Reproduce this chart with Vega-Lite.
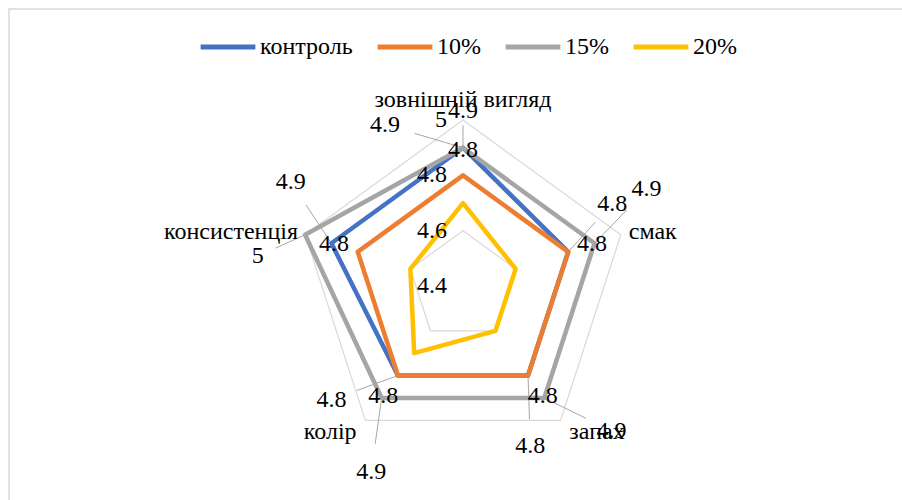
{
  "$schema": "https://vega.github.io/schema/vega-lite/v6.json",
  "width": 895,
  "height": 493,
  "autosize": {"type": "none"},
  "padding": {"left": 9, "top": 9, "right": 0, "bottom": 0},
  "background": "white",
  "config": {"view": {"stroke": "#d9d9d9", "strokeWidth": 1.5}, "font": "Liberation Serif", "text": {"font": "Liberation Serif", "fontSize": 24, "color": "black"}, "legend": {"labelFont": "Liberation Serif"}},
  "datasets": {
    "scores": [
      {"axis": "зовнішній вигляд", "idx": 0, "series": "контроль", "value": 4.9},
      {"axis": "смак", "idx": 1, "series": "контроль", "value": 4.8},
      {"axis": "запах", "idx": 2, "series": "контроль", "value": 4.8},
      {"axis": "колір", "idx": 3, "series": "контроль", "value": 4.8},
      {"axis": "консистенція", "idx": 4, "series": "контроль", "value": 4.9},
      {"axis": "зовнішній вигляд", "idx": 0, "series": "10%", "value": 4.8},
      {"axis": "смак", "idx": 1, "series": "10%", "value": 4.8},
      {"axis": "запах", "idx": 2, "series": "10%", "value": 4.8},
      {"axis": "колір", "idx": 3, "series": "10%", "value": 4.8},
      {"axis": "консистенція", "idx": 4, "series": "10%", "value": 4.8},
      {"axis": "зовнішній вигляд", "idx": 0, "series": "15%", "value": 4.9},
      {"axis": "смак", "idx": 1, "series": "15%", "value": 4.9},
      {"axis": "запах", "idx": 2, "series": "15%", "value": 4.9},
      {"axis": "колір", "idx": 3, "series": "15%", "value": 4.9},
      {"axis": "консистенція", "idx": 4, "series": "15%", "value": 5.0},
      {"axis": "зовнішній вигляд", "idx": 0, "series": "20%", "value": 4.7},
      {"axis": "смак", "idx": 1, "series": "20%", "value": 4.6},
      {"axis": "запах", "idx": 2, "series": "20%", "value": 4.6},
      {"axis": "колір", "idx": 3, "series": "20%", "value": 4.7},
      {"axis": "консистенція", "idx": 4, "series": "20%", "value": 4.6}
    ],
    "rings": [
      {"ring": "4.6", "idx": 0, "value": 4.6}, {"ring": "4.6", "idx": 1, "value": 4.6}, {"ring": "4.6", "idx": 2, "value": 4.6}, {"ring": "4.6", "idx": 3, "value": 4.6}, {"ring": "4.6", "idx": 4, "value": 4.6},
      {"ring": "4.8", "idx": 0, "value": 4.8}, {"ring": "4.8", "idx": 1, "value": 4.8}, {"ring": "4.8", "idx": 2, "value": 4.8}, {"ring": "4.8", "idx": 3, "value": 4.8}, {"ring": "4.8", "idx": 4, "value": 4.8},
      {"ring": "5", "idx": 0, "value": 5.0}, {"ring": "5", "idx": 1, "value": 5.0}, {"ring": "5", "idx": 2, "value": 5.0}, {"ring": "5", "idx": 3, "value": 5.0}, {"ring": "5", "idx": 4, "value": 5.0}
    ],
    "ticks": [
      {"idx": 0, "value": 4.4}, {"idx": 0, "value": 4.6}, {"idx": 0, "value": 4.8}, {"idx": 0, "value": 5.0}
    ],
    "axes": [
      {"axis": "зовнішній вигляд", "idx": 0},
      {"axis": "смак", "idx": 1},
      {"axis": "запах", "idx": 2},
      {"axis": "колір", "idx": 3},
      {"axis": "консистенція", "idx": 4}
    ]
  },
  "encoding": {
    "x": {"field": "x", "type": "quantitative", "scale": {"domain": [-2.735, 2.657], "nice": false, "zero": false}, "axis": null},
    "y": {"field": "y", "type": "quantitative", "scale": {"domain": [-1.301, 1.669], "nice": false, "zero": false}, "axis": null}
  },
  "layer": [
    {
      "data": {"name": "rings"},
      "transform": [
        {"calculate": "datum.idx*2*PI/5", "as": "a"},
        {"calculate": "(datum.value-4.4)/0.6", "as": "r"},
        {"calculate": "datum.r*sin(datum.a)", "as": "x"},
        {"calculate": "datum.r*cos(datum.a)", "as": "y"}
      ],
      "mark": {"type": "line", "interpolate": "linear-closed", "stroke": "#d9d9d9", "strokeWidth": 1.2},
      "encoding": {"detail": {"field": "ring"}, "order": {"field": "idx", "type": "quantitative"}}
    },
    {
      "data": {"name": "scores"},
      "transform": [
        {"filter": "datum.series == 'контроль' || datum.series == '15%'"},
        {"calculate": "datum.idx*2*PI/5", "as": "a"},
        {"calculate": "(datum.value-4.4)/0.6", "as": "r"},
        {"calculate": "datum.series == '15%' ? (datum.idx == 0 ? -0.45 : -0.17) : (datum.idx == 0 ? 0 : (datum.idx == 1 ? -0.19 : 0.23))", "as": "da"},
        {"calculate": "datum.series == '15%' ? (datum.idx == 0 ? 1.08 : 1.25) : datum.r + (datum.idx == 0 ? 0.22 : (datum.idx == 1 ? 0.36 : 0.38))", "as": "lr"},
        {"calculate": "datum.r*sin(datum.a)", "as": "x"},
        {"calculate": "datum.r*cos(datum.a)", "as": "y"},
        {"calculate": "datum.x + 0.62*(datum.lr*sin(datum.a+datum.da) - datum.x)", "as": "x2"},
        {"calculate": "datum.y + 0.62*(datum.lr*cos(datum.a+datum.da) - datum.y)", "as": "y2"}
      ],
      "mark": {"type": "rule", "stroke": "#a6a6a6", "strokeWidth": 1},
      "encoding": {"x2": {"field": "x2"}, "y2": {"field": "y2"}}
    },
    {
      "data": {"name": "scores"},
      "transform": [
        {"calculate": "datum.idx*2*PI/5", "as": "a"},
        {"calculate": "(datum.value-4.4)/0.6", "as": "r"},
        {"calculate": "datum.r*sin(datum.a)", "as": "x"},
        {"calculate": "datum.r*cos(datum.a)", "as": "y"}
      ],
      "mark": {"type": "line", "interpolate": "linear-closed", "strokeWidth": 4.5, "strokeJoin": "round"},
      "encoding": {
        "color": {
          "field": "series", "type": "nominal",
          "scale": {"domain": ["контроль", "10%", "15%", "20%"], "range": ["#4472C4", "#ED7D31", "#A5A5A5", "#FFC000"]},
          "legend": {"orient": "none", "legendX": 189, "legendY": 8, "direction": "horizontal", "title": null, "symbolType": "stroke", "symbolSize": 3000, "symbolStrokeWidth": 5, "labelFontSize": 24, "labelFont": "Liberation Serif", "labelColor": "black", "columnPadding": 14, "labelOffset": 2, "padding": 0}
        },
        "order": {"field": "idx", "type": "quantitative"}
      }
    },
    {
      "data": {"name": "scores"},
      "transform": [
        {"filter": "datum.series != '20%'"},
        {"calculate": "datum.idx*2*PI/5", "as": "a"},
        {"calculate": "(datum.value-4.4)/0.6", "as": "r"},
        {"calculate": "datum.series == '15%' ? (datum.idx == 0 ? -0.45 : -0.17) : (datum.series == 'контроль' ? (datum.idx == 0 ? 0 : (datum.idx == 1 ? -0.19 : 0.23)) : 0)", "as": "da"},
        {"calculate": "datum.series == '15%' ? (datum.idx == 0 ? 1.08 : 1.25) : (datum.series == 'контроль' ? datum.r + (datum.idx == 0 ? 0.22 : (datum.idx == 1 ? 0.36 : 0.38)) : datum.r + 0.15)", "as": "lr"},
        {"calculate": "datum.lr*sin(datum.a+datum.da)", "as": "x"},
        {"calculate": "datum.lr*cos(datum.a+datum.da)", "as": "y"}
      ],
      "mark": {"type": "text", "baseline": "middle", "align": "center", "font": "Liberation Serif"},
      "encoding": {"text": {"field": "value", "type": "quantitative", "format": ".2~f"}}
    },
    {
      "data": {"name": "ticks"},
      "transform": [
        {"calculate": "0", "as": "x"},
        {"calculate": "(datum.value-4.4)/0.6", "as": "y"}
      ],
      "mark": {"type": "text", "baseline": "middle", "align": "right", "dx": -16, "font": "Liberation Serif"},
      "encoding": {"text": {"field": "value", "type": "quantitative", "format": ".2~f"}}
    },
    {
      "data": {"name": "axes"},
      "transform": [
        {"filter": "datum.idx == 0"},
        {"calculate": "0", "as": "x"},
        {"calculate": "1.12", "as": "y"}
      ],
      "mark": {"type": "text", "baseline": "middle", "align": "center", "font": "Liberation Serif"},
      "encoding": {"text": {"field": "axis"}}
    },
    {
      "data": {"name": "axes"},
      "transform": [
        {"filter": "datum.idx == 1 || datum.idx == 2"},
        {"calculate": "datum.idx*2*PI/5", "as": "a"},
        {"calculate": "datum.idx == 1 ? 1.05 : 1.09", "as": "r"},
        {"calculate": "datum.r*sin(datum.a)", "as": "x"},
        {"calculate": "datum.r*cos(datum.a)", "as": "y"}
      ],
      "mark": {"type": "text", "baseline": "middle", "align": "left", "font": "Liberation Serif"},
      "encoding": {"text": {"field": "axis"}}
    },
    {
      "data": {"name": "axes"},
      "transform": [
        {"filter": "datum.idx == 3 || datum.idx == 4"},
        {"calculate": "datum.idx*2*PI/5", "as": "a"},
        {"calculate": "datum.idx == 4 ? 1.045 : 1.09", "as": "r"},
        {"calculate": "datum.r*sin(datum.a)", "as": "x"},
        {"calculate": "datum.r*cos(datum.a)", "as": "y"}
      ],
      "mark": {"type": "text", "baseline": "middle", "align": "right", "font": "Liberation Serif"},
      "encoding": {"text": {"field": "axis"}}
    }
  ]
}
